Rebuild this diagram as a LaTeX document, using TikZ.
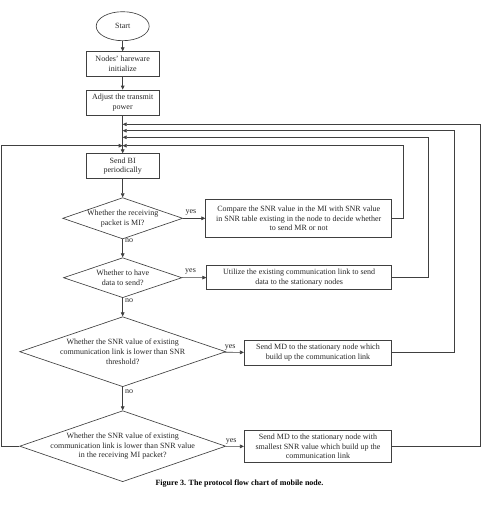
\documentclass[tikz,border=0pt]{standalone}
\usepackage{fontspec}
\setmainfont{Liberation Serif}
\usetikzlibrary{shapes.geometric,arrows.meta}
\begin{document}
\begin{tikzpicture}[x=1pt,y=-1pt,
  every node/.style={font=\fontsize{8}{9.7}\selectfont, text=black!85},
  ln/.style={draw=black!75, line width=0.65pt},
  arr/.style={ln, -{Triangle[length=4pt,width=3.6pt]}},
  box/.style={ln, rectangle, inner sep=0pt, align=center},
  dia/.style={ln, diamond, inner sep=0pt},
  lab/.style={font=\fontsize{8}{9.7}\selectfont, inner sep=0pt}
]
\useasboundingbox (0,0) rectangle (483,506);
\def\cx{122.7}
% nodes
\node[ln, ellipse, minimum width=53pt, minimum height=29pt, inner sep=0pt] (start) at (\cx,26.2) {Start};
\node[box, minimum width=72.7pt, minimum height=24.6pt] (hw) at (\cx,64) {Nodes' hareware\\initialize};
\node[box, minimum width=72.7pt, minimum height=25pt] (pw) at (\cx,102.5) {Adjust the transmit\\power};
\node[box, minimum width=72.7pt, minimum height=24.6pt] (bi) at (\cx,166) {Send BI\\periodically};
\node[dia, minimum width=120pt, minimum height=41.3pt, label={[lab,align=center]center:Whether the receiving\\packet is MI?}] (d1) at (\cx,218.3) {};
\node[box, minimum width=186pt, minimum height=38pt] (cmp) at (298.7,218.3) {Compare the SNR value in the MI with SNR value\\in SNR table existing in the node to decide whether\\to send MR or not};
\node[dia, minimum width=118.4pt, minimum height=40pt, label={[lab,align=center]center:Whether to have\\data to send?}] (d2) at (\cx,277.7) {};
\node[box, minimum width=185pt, minimum height=23.6pt] (ut) at (299.2,277.5) {Utilize the existing communication link to send\\data to the stationary nodes};
\node[dia, minimum width=206pt, minimum height=70pt, label={[lab,align=center]center:Whether the SNR value of existing\\communication link is lower than SNR\\threshold?}] (d3) at (\cx,351.7) {};
\node[box, minimum width=147.4pt, minimum height=24.3pt] (md1) at (318,352.8) {Send MD to the stationary node which\\build up the communication link};
\node[dia, minimum width=206pt, minimum height=71pt, label={[lab,align=center]center:Whether the SNR value of existing\\communication link is lower than SNR value\\in the receiving MI packet?}] (d4) at (\cx,446.2) {};
\node[box, minimum width=147.4pt, minimum height=31.6pt] (md2) at (318,446.5) {Send MD to the stationary node with\\smallest SNR value which build up the\\communication link};
\node[font=\fontsize{8}{9.7}\selectfont\bfseries, text=black] (cap) at (239.5,484) {Figure 3. The protocol flow chart of mobile node.};
% merge coordinates on main line
\coordinate (m1) at (\cx,124.3);
\coordinate (m2) at (\cx,130.7);
\coordinate (m3) at (\cx,137.3);
\coordinate (m4) at (\cx,145.7);
\coordinate (r1) at (480,124.3);
\coordinate (r2) at (454,130.7);
\coordinate (r3) at (428.7,137.3);
\coordinate (r4) at (403.3,145.7);
\coordinate (l4) at (1.2,145.7);
% main flow
\draw[arr] (start) -- (hw);
\draw[arr] (hw) -- (pw);
\draw[arr] (pw) -- (bi);
\draw[arr] (bi) -- (d1);
\draw[arr] (d1) -- (d2) node[lab, pos=0.08, right=2pt] {no};
\draw[arr] (d2) -- (d3) node[lab, pos=0.15, right=2pt] {no};
\draw[arr] (d3) -- (d4) node[lab, pos=0.2, right=2pt] {no};
\draw[arr] (d1) -- (cmp) node[lab, pos=0.35, above=3pt] {yes};
\draw[arr] (d2) -- (ut) node[lab, pos=0.35, above=3pt] {yes};
\draw[arr] (d3) -- (md1) node[lab, pos=0.3, above=2pt] {yes};
\draw[arr] (d4) -- (md2) node[lab, pos=0.3, above=2pt] {yes};
% feedback loops
\draw[arr] (cmp.east) -| (r4) -- (m4);
\draw[arr] (ut.east) -| (r3) -- (m3);
\draw[arr] (md1.east) -| (r2) -- (m2);
\draw[arr] (md2.east) -| (r1) -- (m1);
\draw[arr] (d4.west) -| (l4) -- (m4);
\end{tikzpicture}
\end{document}
